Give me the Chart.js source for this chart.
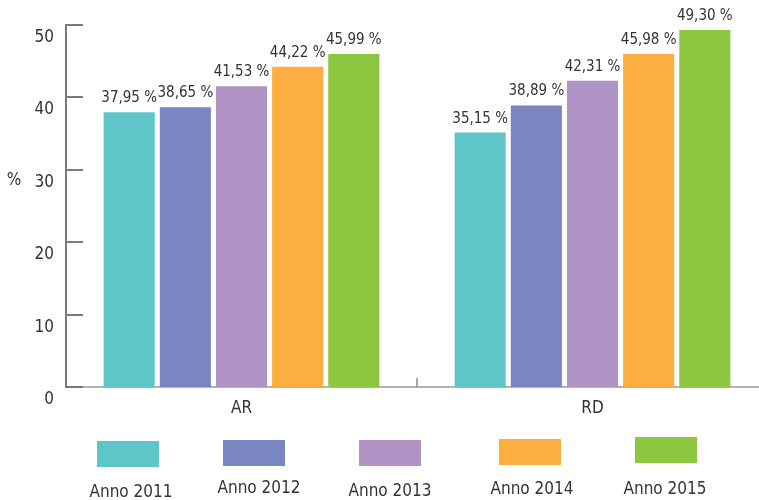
<!DOCTYPE html>
<html>
<head>
<meta charset="utf-8">
<script src="https://cdn.jsdelivr.net/npm/chart.js@4.4.1/dist/chart.umd.min.js"></script>
<style>
  html, body { margin: 0; padding: 0; background: #fff; overflow: hidden; }
  #contenedor { position: relative; width: 780px; height: 500px; }
</style>
</head>
<body>
<div id="contenedor"><canvas id="grafico"></canvas></div>
<script>
// datos
const categorias = ['AR', 'RD'];
const anni = ['Anno 2011', 'Anno 2012', 'Anno 2013', 'Anno 2014', 'Anno 2015'];
const valori2011 = [37.95, 35.15];
const valori2012 = [38.65, 38.89];
const valori2013 = [41.53, 42.31];
const valori2014 = [44.22, 45.98];
const valori2015 = [45.99, 49.30];
const tickY = [0, 10, 20, 30, 40, 50];

const colores = ['#5ec6c9', '#7a86c1', '#ae93c4', '#fcaf40', '#8dc63f'];
const fuente = '"DejaVu Sans Condensed", "DejaVu Sans", sans-serif';

// posiciones de la leyenda (cajas algo desalineadas como en el original)
const leyendaCajaX = [97, 223, 359, 499, 635];
const leyendaCajaY = [441, 440, 440, 439, 437];
const leyendaTextoX = [131, 259, 390, 532, 665];
const leyendaTextoY = [493, 489, 492, 490, 490];

const valores = [valori2011, valori2012, valori2013, valori2014, valori2015];

function formato(v) {
    return v.toFixed(2).replace('.', ',') + ' %';
}

// etiquetas sobre las barras, marcas de los ejes y leyenda
const extras = {
    id: 'extras',
    afterDatasetsDraw(chart) {
        const ctx = chart.ctx;
        const y = chart.scales.y;
        const x = chart.scales.x;
        ctx.save();

        // valores encima de cada barra
        ctx.font = '15px ' + fuente;
        ctx.fillStyle = '#333';
        ctx.textAlign = 'center';
        ctx.textBaseline = 'alphabetic';
        chart.data.datasets.forEach((ds, i) => {
            chart.getDatasetMeta(i).data.forEach((bar, j) => {
                ctx.fillText(formato(ds.data[j]), bar.x, bar.y - 10);
            });
        });

        // marcas del eje y hacia adentro + etiquetas (un poco por debajo de la marca)
        ctx.strokeStyle = '#7a7a7a';
        ctx.lineWidth = 2;
        ctx.font = '17px ' + fuente;
        tickY.forEach(v => {
            const py = Math.round(y.getPixelForValue(v));
            ctx.beginPath();
            ctx.moveTo(x.left, py);
            ctx.lineTo(x.left + 17, py);
            ctx.stroke();
            ctx.textAlign = 'right';
            ctx.textBaseline = 'middle';
            ctx.fillText(String(v), 54, py + 13);
        });

        // marca entre categorias
        ctx.strokeStyle = '#8a8a8a';
        ctx.lineWidth = 1.5;
        const medio = (x.getPixelForValue(0) + x.getPixelForValue(1)) / 2;
        ctx.beginPath();
        ctx.moveTo(medio, y.bottom);
        ctx.lineTo(medio, y.bottom - 9);
        ctx.stroke();

        // simbolo %
        ctx.textAlign = 'center';
        ctx.fillText('%', 14, 181);

        // leyenda
        anni.forEach((a, i) => {
            ctx.fillStyle = colores[i];
            ctx.fillRect(leyendaCajaX[i], leyendaCajaY[i], 62, 26);
            ctx.fillStyle = '#333';
            ctx.fillText(a, leyendaTextoX[i], leyendaTextoY[i]);
        });
        ctx.restore();
    }
};

const ctx = document.getElementById('grafico').getContext('2d');
const myChart = new Chart(ctx, {
    type: 'bar',
    data: {
        labels: categorias,
        datasets: anni.map((a, i) => ({
            label: a,
            data: valores[i],
            backgroundColor: colores[i],
            borderWidth: 0,
            categoryPercentage: 0.8,
            barPercentage: 0.91
        }))
    },
    options: {
        responsive: true,
        maintainAspectRatio: false,
        animation: false,
        layout: { padding: { top: 25, right: 12, left: 0, bottom: 0 } },
        plugins: {
            legend: { display: false },
            tooltip: { enabled: false }
        },
        scales: {
            x: {
                grid: { display: false, drawTicks: false },
                border: { display: true, color: '#b3b3b3', width: 2 },
                ticks: {
                    color: '#333',
                    padding: 11,
                    font: { family: fuente, size: 17 }
                },
                afterFit(scale) { scale.height = 113; }
            },
            y: {
                min: 0,
                max: 50,
                grid: { display: false, drawTicks: false },
                border: { display: true, color: '#7a7a7a', width: 2 },
                ticks: { display: false, stepSize: 10 },
                afterFit(scale) { scale.width = 66; }
            }
        }
    },
    plugins: [extras]
});
</script>
</body>
</html>
